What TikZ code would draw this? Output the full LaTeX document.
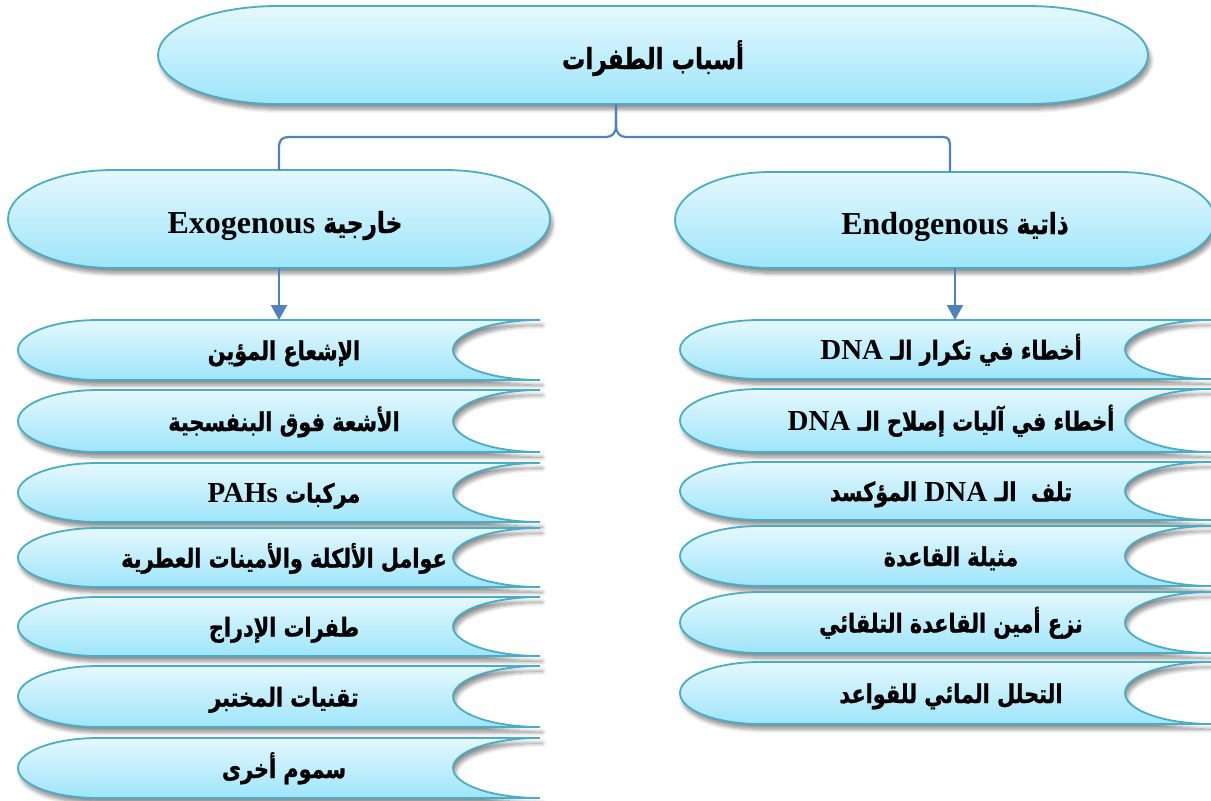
\documentclass[tikz,border=0pt]{standalone}
\usepackage{fontspec}
\setmainfont{Liberation Serif}
\newfontfamily\arabicfont[Script=Arabic, FakeStretch=0.8, BoldFeatures={FakeBold=1}]{DejaVu Sans}
\newfontfamily\latinfont{Liberation Serif}
\TeXXeTstate=1
\usetikzlibrary{arrows.meta,shadows.blur}

\definecolor{edge}{RGB}{75,172,198}
\definecolor{ftop}{RGB}{229,248,254}
\definecolor{fbot}{RGB}{158,229,250}
\definecolor{link}{RGB}{79,129,189}

% Latin words inside the Arabic labels, at the size set by the label style
\def\latsz{12}
\newcommand\lat[1]{\beginL{\latinfont\fontsize{\latsz}{\latsz}\selectfont #1}\endL}

\tikzset{
  pill/.style={draw=edge, line width=0.9pt, top color=ftop, bottom color=fbot,
    blur shadow={shadow xshift=1.2pt, shadow yshift=-2.6pt, shadow blur radius=2pt,
      shadow opacity=45, shadow blur steps=8}},
  box/.style={inner sep=0pt, outer sep=0pt, align=center},
  bigtext/.style={font=\arabicfont\bfseries\fontsize{14.5}{17}\selectfont\def\latsz{16}},
  smalltext/.style={font=\arabicfont\bfseries\fontsize{13}{15}\selectfont\def\latsz{14.5}},
  conn/.style={draw=link, line width=1.1pt},
  arr/.style={conn, -{Triangle[length=7.5pt,width=8pt]}},
}

% rounded pill with elliptic ends: name, cx, cy, w, h, end radius (px), text shift (pt), text
\newcommand\pillnode[8]{%
  \path[pill] ({#2-#4/2+#6},{#3-#5/2}) -- ({#2+#4/2-#6},{#3-#5/2})
    arc[start angle=90, end angle=-90, x radius=#6*0.5pt, y radius=#5*0.25pt]
    -- ({#2-#4/2+#6},{#3+#5/2})
    arc[start angle=270, end angle=90, x radius=#6*0.5pt, y radius=#5*0.25pt]
    -- cycle;
  \node[box, bigtext, minimum width=#4*0.5pt, minimum height=#5*0.5pt] (#1) at (#2,#3)
    {\kern#7pt\raisebox{-7pt}[0pt][0pt]{#8}};
}

% list tab: rounded left end, concave notch on the right: name, cx, cy, w, h, text
\newcommand\listtab[6]{%
  \path[pill] ({#2-#4/2+80},{#3-#5/2}) -- ({#2+#4/2},{#3-#5/2})
    arc[start angle=90, end angle=270, x radius=43.5pt, y radius=#5*0.25pt]
    -- ({#2-#4/2+80},{#3+#5/2})
    arc[start angle=270, end angle=90, x radius=40pt, y radius=#5*0.25pt]
    -- cycle;
  \node[box, smalltext, minimum width=#4*0.5pt, minimum height=#5*0.5pt] (#1) at (#2,#3)
    {\kern5pt\raisebox{-5pt}[0pt][0pt]{#6}};
}

\begin{document}
\begin{tikzpicture}[x=0.5pt, y=-0.5pt]
\useasboundingbox (0,0) rectangle (1211,800);

% top level
\pillnode{top}{653}{55}{990}{98}{120}{0}{\beginR أسباب الطفرات\endR}

% second level
\pillnode{exo}{279}{219}{542}{98}{105}{6}{\beginR خارجية \lat{Exogenous}\endR}
\pillnode{endo}{945}{220}{540}{96}{95}{10}{\beginR ذاتية \lat{Endogenous}\endR}

% external causes
\listtab{lx1}{279}{350}{522}{60}{\beginR الإشعاع المؤين\endR}
\listtab{lx2}{279}{421}{522}{62}{\beginR الأشعة فوق البنفسجية\endR}
\listtab{lx3}{279}{492.5}{522}{59}{\beginR مركبات \lat{PAHs}\endR}
\listtab{lx4}{279}{557.5}{522}{59}{\beginR عوامل الألكلة والأمينات العطرية\endR}
\listtab{lx5}{279}{626.5}{522}{59}{\beginR طفرات الإدراج\endR}
\listtab{lx6}{279}{696.5}{522}{61}{\beginR تقنيات المختبر\endR}
\listtab{lx7}{279}{768}{522}{60}{\beginR سموم أخرى\endR}

% internal causes
\listtab{rx1}{946}{349.5}{532}{59}{\beginR أخطاء في تكرار الـ \lat{DNA}\endR}
\listtab{rx2}{946}{420.5}{532}{63}{\beginR أخطاء في آليات إصلاح الـ \lat{DNA}\endR}
\listtab{rx3}{946}{491}{532}{58}{\beginR تلف~ الـ \lat{DNA} المؤكسد\endR}
\listtab{rx4}{946}{556}{532}{60}{\beginR مثيلة القاعدة\endR}
\listtab{rx5}{946}{622.5}{532}{61}{\beginR نزع أمين القاعدة التلقائي\endR}
\listtab{rx6}{946}{693}{532}{62}{\beginR التحلل المائي للقواعد\endR}

% bracket from the top level to both branches
\draw[conn] ([xshift=-18.5pt]top.south) -- (616,126)
  .. controls (616,133) and (612,137) .. (606,137) -- (289,137)
  .. controls (282,137) and (279,140) .. (279,148) -- (exo.north);
\draw[conn] ([xshift=-18.5pt]top.south) -- (616,126)
  .. controls (616,133) and (620,137) .. (626,137) -- (943,137)
  .. controls (949,137) and (950,140) .. (950,148) -- ([xshift=2.5pt]endo.north);

% arrows into the lists
\draw[arr] (exo.south) -- (lx1.north);
\draw[arr] ([xshift=5pt]endo.south) -- ([xshift=4.5pt]rx1.north);
\end{tikzpicture}
\end{document}
